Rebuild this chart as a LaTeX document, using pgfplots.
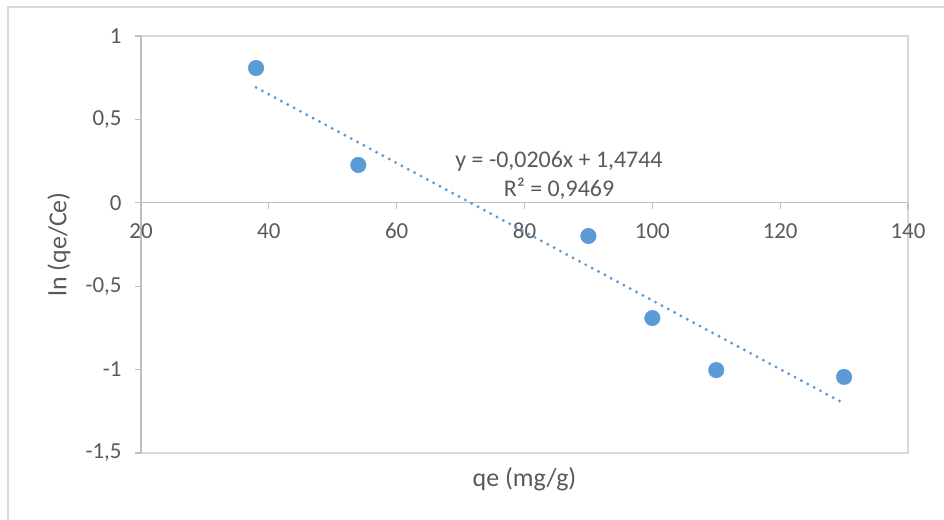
\documentclass[border=0pt]{standalone}
\usepackage{fontspec}
\setmainfont{Carlito}
\usepackage{pgfplots}
\pgfplotsset{compat=1.18}
\definecolor{xlblue}{HTML}{5B9BD5}
\definecolor{xltext}{HTML}{595959}
\definecolor{xlaxis}{HTML}{BFBFBF}
\definecolor{xlframe}{HTML}{D9D9D9}
\newcommand{\xlfont}{\fontsize{23}{28}\selectfont}
\newcommand{\xltitlefont}{\fontsize{26}{31}\selectfont}
\newcommand{\xleqfont}{\fontsize{24}{29}\selectfont}

\begin{document}
\begin{tikzpicture}
\useasboundingbox (0,0) rectangle (944bp,520bp);
% chart area frame (only top and left edges are visible)
\draw[xlframe, line width=1.5bp] (8bp,0) -- (8bp,513bp) -- (944bp,513bp);
\begin{axis}[
  at={(141bp,67bp)}, anchor=south west,
  scale only axis,
  width=767bp, height=417bp,
  xmin=20, xmax=140, ymin=-1.5, ymax=1,
  xtick={20,40,...,140},
  ytick={-1.5,-1,-0.5,0,0.5,1},
  axis x line*=middle, axis y line*=left,
  hide obscured x ticks=false, hide obscured y ticks=false,
  axis line style={draw=xlaxis, line width=1.3bp},
  axis background/.style={draw=xlframe, line width=1.3bp},
  tick style={draw=xlaxis, line width=1.3bp},
  tick align=outside, major tick length=6bp,
  /pgf/number format/assume math mode=true,
  /pgf/number format/use comma,
  /pgf/number format/1000 sep={},
  tick label style={font=\xlfont, text=xltext},
  xticklabel style={anchor=base, yshift=-30bp},
  yticklabel style={anchor=east, xshift=-10bp},
  label style={font=\xltitlefont, text=xltext},
  xlabel={qe (mg/g)},
  ylabel={ln (qe/Ce)},
  xlabel style={at={(axis description cs:0.5,-0.063)}, anchor=center},
  ylabel style={at={(axis description cs:-0.107,0.5)}, anchor=center, rotate=0},
  clip=false,
]
% linear trendline (Excel), end points from y = -0.0206x + 1.4744
\addplot[xlblue, line width=3.2bp, line cap=round, dash pattern=on 0pt off 7.2bp]
  coordinates {(38,0.6916) (130,-1.2036)};
\addplot[only marks, mark=*, mark size=7.8bp, draw=xlblue, fill=xlblue]
  coordinates {(38,0.808) (54,0.227) (90,-0.199) (100,-0.691) (110,-1.003) (130,-1.044)};
\node[font=\xleqfont, text=xltext, anchor=base] at (axis cs:85.4,0.2087) {y = -0,0206x + 1,4744};
\node[font=\xleqfont, text=xltext, anchor=base] at (axis cs:85.4,0.0348) {R² = 0,9469};
\end{axis}
\end{tikzpicture}
\end{document}
